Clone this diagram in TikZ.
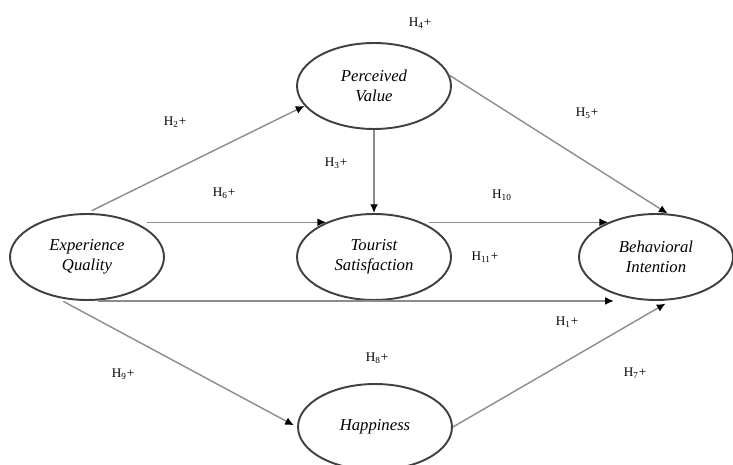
\documentclass[tikz,border=0pt]{standalone}
\usepackage{fontspec}
\setmainfont{Liberation Serif}
\usetikzlibrary{shapes.geometric,arrows.meta}
\tikzset{
	construct/.style={ellipse,draw=black!75,line width=1.1pt,minimum width=3.08cm,minimum height=1.72cm,inner sep=0pt,align=center,font=\fontsize{9.5}{11.5}\selectfont\itshape},
	hyp/.style={draw=black!45,line width=0.8pt,-{Latex[length=5pt,width=4.5pt,color=black]}},
	hlabel/.style={font=\fontsize{7.5}{9}\selectfont,inner sep=1pt}
}
\begin{document}
\begin{tikzpicture}[x=0.02cm,y=-0.02cm]
			\useasboundingbox(0,0)rectangle(733,465);
			\node[construct](eq)at(87,257){Experience\\Quality};
			\node[construct](pv)at(374,86){Perceived\\Value};
			\node[construct](ts)at(374,257){Tourist\\Satisfaction};
			\node[construct](bi)at(656,257){Behavioral\\Intention};
			\node[construct](hap)at(375,427){Happiness};
			\draw[hyp,shorten <=3pt](eq.north)--(pv.196);
			\draw[hyp](pv.south)--(ts.north);
			\draw[hyp](pv.8)--(bi.75);
			\draw[hyp,shorten <=7pt](eq.36)--(ts.144);
			\draw[hyp,shorten <=4pt](ts.36)--(bi.144);
			\draw[hyp,shorten <=6pt](eq.south)--([xshift=-24pt]bi.south);
			\draw[hyp,shorten <=5pt,shorten >=2pt](eq.232)--(hap.west);
			\draw[hyp,shorten >=4pt](hap.east)--(bi.290);
			\node[hlabel](h4)at(420,23){H\textsubscript{4}+};
			\node[hlabel](h2)at(175,122){H\textsubscript{2}+};
			\node[hlabel](h3)at(336,163){H\textsubscript{3}+};
			\node[hlabel](h6)at(224,193){H\textsubscript{6}+};
			\node[hlabel](h5)at(587,113){H\textsubscript{5}+};
			\node[hlabel](h10)at(502,195){H\textsubscript{10}};
			\node[hlabel](h11)at(485,257){H\textsubscript{11}+};
			\node[hlabel](h1)at(567,322){H\textsubscript{1}+};
			\node[hlabel](h9)at(123,374){H\textsubscript{9}+};
			\node[hlabel](h8)at(377,358){H\textsubscript{8}+};
			\node[hlabel](h7)at(635,373){H\textsubscript{7}+};
		\end{tikzpicture}
\end{document}
